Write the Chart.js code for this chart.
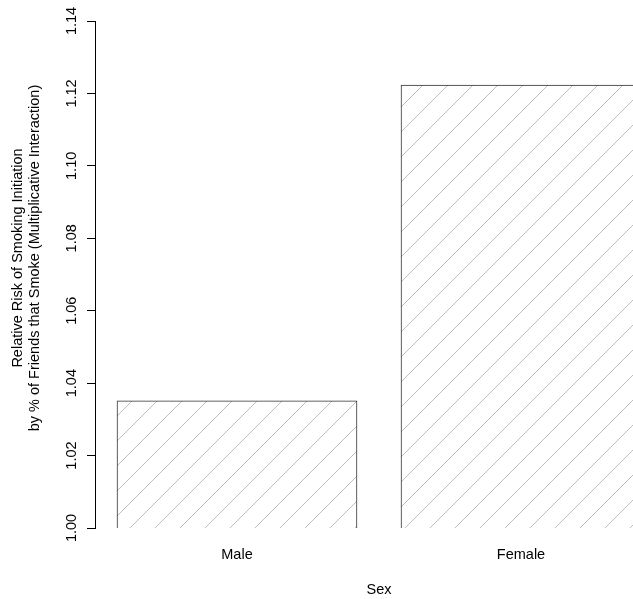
<!DOCTYPE html>
<html>
<head>
<meta charset="utf-8">
<title>Relative Risk of Smoking Initiation by Sex</title>
<script src="https://cdn.jsdelivr.net/npm/chart.js@4/dist/chart.umd.min.js"></script>
<style>
  html, body { margin: 0; padding: 0; background: #fff; overflow: hidden; }
  /* plot region runs past the right edge, like the cropped original */
  #wrap { width: 663px; height: 599px; }
</style>
</head>
<body>
<div id="wrap"><canvas id="chart"></canvas></div>
<script>
// ─── Data ────────────────────────────────────────────────
const categories  = ["Male", "Female"];
const riskValues  = [1.0351, 1.1223];
const yTickValues = [1.00, 1.02, 1.04, 1.06, 1.08, 1.10, 1.12, 1.14];
const yTitleLines = [
  "Relative Risk of Smoking Initiation",
  "by % of Friends that Smoke (Multiplicative Interaction)"
];
const xTitle = "Sex";

// ─── Style ───────────────────────────────────────────────
const FONT = "'Liberation Sans', Arial, Helvetica, sans-serif";
const FONT_SIZE = 14.5;
Chart.defaults.font.family = FONT;
Chart.defaults.font.size = FONT_SIZE;
Chart.defaults.color = "#000";

// diagonal hatching, 45 degrees, like R's density/angle fill
function hatchPattern() {
  const c = document.createElement("canvas");
  c.width = 25; c.height = 25;
  const g = c.getContext("2d");
  g.fillStyle = "#fff";
  g.fillRect(0, 0, 25, 25);
  g.strokeStyle = "#bdbdbd";
  g.lineWidth = 1;
  g.beginPath();
  g.moveTo(-5, 13); g.lineTo(13, -5);   // x + y = 8
  g.moveTo(3, 30);  g.lineTo(30, 3);    // x + y = 33
  g.stroke();
  return g.createPattern(c, "repeat");
}

// y axis title sits a little above the plot centre in the original
const yTitlePlugin = {
  id: "yTitle",
  afterDraw(chart) {
    const ctx = chart.ctx;
    ctx.save();
    ctx.font = FONT_SIZE + "px " + FONT;
    ctx.fillStyle = "#000";
    ctx.textAlign = "center";
    ctx.textBaseline = "alphabetic";
    ctx.translate(0, 258);
    ctx.rotate(-Math.PI / 2);
    ctx.fillText(yTitleLines[0], 0, 22);
    ctx.fillText(yTitleLines[1], 0, 38.5);
    ctx.restore();
  }
};

// ─── Chart ───────────────────────────────────────────────
const ctx = document.getElementById("chart").getContext("2d");
new Chart(ctx, {
  type: "bar",
  data: {
    labels: categories,
    datasets: [{
      data: riskValues,
      backgroundColor: hatchPattern(),
      borderColor: "#2e2e2e",
      borderWidth: 1,
      barThickness: 240
    }]
  },
  options: {
    responsive: true,
    maintainAspectRatio: false,
    animation: false,
    layout: { padding: { top: 21, left: 0, right: 0, bottom: 0 } },
    plugins: { legend: { display: false }, tooltip: { enabled: false } },
    scales: {
      x: {
        grid: { display: false, drawTicks: false },
        border: { display: false },
        ticks: { padding: 18.5 },
        title: { display: true, text: xTitle, padding: { top: 0, bottom: 0.4 } },
        afterFit: s => { s.height = 71; }
      },
      y: {
        min: 1.00,
        max: 1.14,
        afterBuildTicks: s => { s.ticks = yTickValues.map(v => ({ value: v })); },
        grid: { drawOnChartArea: false, drawTicks: true, tickLength: 8, color: "#000" },
        border: { display: true, color: "#000", width: 1 },
        ticks: {
          minRotation: 90,
          maxRotation: 90,
          crossAlign: "center",
          padding: 1,
          callback: v => Number(v).toFixed(2)
        },
        afterFit: s => { s.width = 95; }
      }
    }
  },
  plugins: [yTitlePlugin]
});
</script>
</body>
</html>
